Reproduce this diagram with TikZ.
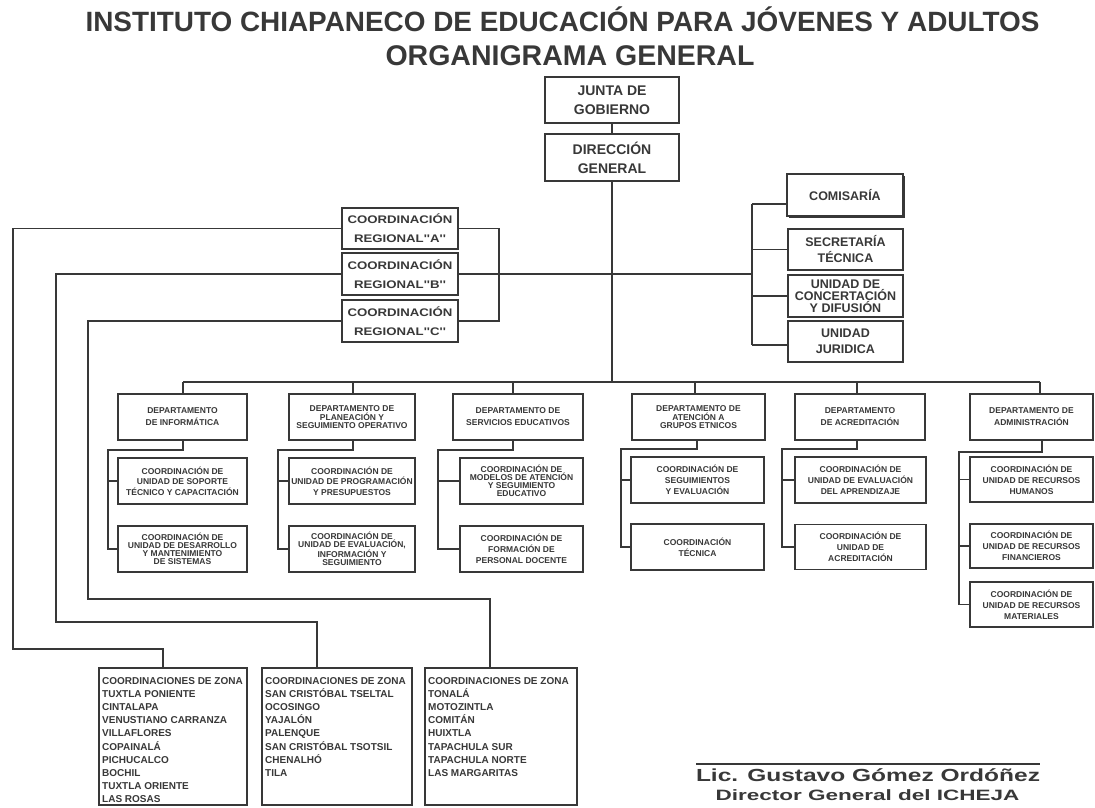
\documentclass[tikz,border=0pt]{standalone}
\usepackage{fontspec}
\setmainfont{Liberation Sans}
\newfontfamily\widesf[FakeStretch=1.2]{Liberation Sans}
\usetikzlibrary{shadows}
\definecolor{ink}{gray}{0.22}
\newcommand\fTop{\bfseries\fontsize{14}{19}\selectfont}
\newcommand\fStaff[1]{\bfseries\fontsize{12.5}{#1}\selectfont}
\newcommand\fReg{\widesf\bfseries\fontsize{11}{19}\selectfont}
\newcommand\fD[1]{\bfseries\fontsize{8.5}{#1}\selectfont}
\newcommand\fZone{\bfseries\fontsize{10}{13}\selectfont}
\tikzset{
  box/.style={draw=ink, line width=1.3pt, fill=white, inner sep=0pt, align=center, text=ink},
  conn/.style={draw=ink, line width=1.3pt},
  zl/.style={inner sep=0pt, text=ink, font=\fZone},
}
\begin{document}
\begin{tikzpicture}[x=1pt,y=-1pt]
\useasboundingbox (0,0) rectangle (1095,808);
\fill[white] (0,0) rectangle (1095,808);

% titles
\node[anchor=base, inner sep=0pt, text=ink, font=\bfseries\fontsize{27.9}{30}\selectfont] (t1) at (562.5,32) {INSTITUTO CHIAPANECO DE EDUCACIÓN PARA JÓVENES Y ADULTOS};
\node[anchor=base, inner sep=0pt, text=ink, font=\bfseries\fontsize{28.5}{30}\selectfont] (t2) at (570,66) {ORGANIGRAMA GENERAL};

% top
\node[box, minimum width=134pt, minimum height=46pt, font=\fTop] (junta) at (612,100) {JUNTA DE\\GOBIERNO};
\node[box, minimum width=134pt, minimum height=47pt, font=\fTop] (dir) at (612,157.5) {DIRECCIÓN\\GENERAL};

% staff
\node[box, minimum width=116pt, minimum height=42pt, font={\fStaff{16}}, drop shadow={shadow xshift=1.5pt, shadow yshift=-1.5pt, fill=ink, opacity=1}] (com) at (845,195) {COMISARÍA};
\node[box, minimum width=115pt, minimum height=41pt, font={\fStaff{16}}] (sec) at (845.5,249.5) {SECRETARÍA\\TÉCNICA};
\node[box, minimum width=115pt, minimum height=42pt, font={\fStaff{12}}] (unid) at (845.5,296) {UNIDAD DE\\CONCERTACIÓN\\Y DIFUSIÓN};
\node[box, minimum width=115pt, minimum height=41pt, font={\fStaff{16}}] (jur) at (845.5,341.5) {UNIDAD\\JURIDICA};

% regional
\node[box, minimum width=116pt, minimum height=41pt, font=\fReg] (rA) at (400,228.5) {COORDINACIÓN\\REGIONAL''A''};
\node[box, minimum width=116pt, minimum height=42pt, font=\fReg] (rB) at (400,274) {COORDINACIÓN\\REGIONAL''B''};
\node[box, minimum width=116pt, minimum height=42pt, font=\fReg] (rC) at (400,321) {COORDINACIÓN\\REGIONAL''C''};

% departments
\node[box, minimum width=129pt, minimum height=46pt, font={\fD{12}}] (d1) at (182.5,417) {DEPARTAMENTO\\DE INFORMÁTICA};
\node[box, minimum width=126pt, minimum height=46pt, font={\fD{7.6}}] (d2) at (352,417) {DEPARTAMENTO DE\\PLANEACIÓN Y\\SEGUIMIENTO OPERATIVO};
\node[box, minimum width=130pt, minimum height=46pt, font={\fD{12}}] (d3) at (518,417) {DEPARTAMENTO DE\\SERVICIOS EDUCATIVOS};
\node[box, minimum width=133pt, minimum height=46pt, font={\fD{7.6}}] (d4) at (698.5,417) {DEPARTAMENTO DE\\ATENCIÓN A\\GRUPOS ETNICOS};
\node[box, minimum width=130pt, minimum height=46pt, font={\fD{12}}] (d5) at (860,417) {DEPARTAMENTO\\DE ACREDITACIÓN};
\node[box, minimum width=123pt, minimum height=46pt, font={\fD{12}}] (d6) at (1031.5,417) {DEPARTAMENTO DE\\ADMINISTRACIÓN};

% sub units
\node[box, minimum width=129pt, minimum height=46pt, font={\fD{10.5}}] (s11) at (182.5,481) {COORDINACIÓN DE\\UNIDAD DE SOPORTE\\TÉCNICO Y CAPACITACIÓN};
\node[box, minimum width=129pt, minimum height=46pt, font={\fD{8}}] (s12) at (182.5,549) {COORDINACIÓN DE\\UNIDAD DE DESARROLLO\\Y MANTENIMIENTO\\DE SISTEMAS};
\node[box, minimum width=126pt, minimum height=46pt, font={\fD{10.5}}] (s21) at (352,481) {COORDINACIÓN DE\\UNIDAD DE PROGRAMACIÓN\\Y PRESUPUESTOS};
\node[box, minimum width=126pt, minimum height=46pt, font={\fD{8}}] (s22) at (352,549) {COORDINACIÓN DE\\UNIDAD DE EVALUACIÓN,\\INFORMACIÓN Y\\SEGUIMIENTO};
\node[box, minimum width=123pt, minimum height=46pt, font={\fD{8}}] (s31) at (521.5,481) {COORDINACIÓN DE\\MODELOS DE ATENCIÓN\\Y SEGUIMIENTO\\EDUCATIVO};
\node[box, minimum width=123pt, minimum height=46pt, font={\fD{11}}] (s32) at (521.5,549) {COORDINACIÓN DE\\FORMACIÓN DE\\PERSONAL DOCENTE};
\node[box, minimum width=133pt, minimum height=46pt, font={\fD{11}}] (s41) at (697.5,480) {COORDINACIÓN DE\\SEGUIMIENTOS\\Y EVALUACIÓN};
\node[box, minimum width=133pt, minimum height=46pt, font={\fD{11}}] (s42) at (697.5,547) {COORDINACIÓN\\TÉCNICA};
\node[box, minimum width=131pt, minimum height=46pt, font={\fD{11}}] (s51) at (860.5,480) {COORDINACIÓN DE\\UNIDAD DE EVALUACIÓN\\DEL APRENDIZAJE};
\node[box, minimum width=131pt, minimum height=45pt, font={\fD{11}}] (s52) at (860.5,547) {COORDINACIÓN DE\\UNIDAD DE\\ACREDITACIÓN};
\node[box, minimum width=123pt, minimum height=45pt, font={\fD{11}}] (s61) at (1031.5,479.5) {COORDINACIÓN DE\\UNIDAD DE RECURSOS\\HUMANOS};
\node[box, minimum width=123pt, minimum height=44pt, font={\fD{11}}] (s62) at (1031.5,546) {COORDINACIÓN DE\\UNIDAD DE RECURSOS\\FINANCIEROS};
\node[box, minimum width=123pt, minimum height=45pt, font={\fD{11}}] (s63) at (1031.5,604.5) {COORDINACIÓN DE\\UNIDAD DE RECURSOS\\MATERIALES};

% zone boxes
\node[box, minimum width=148pt, minimum height=137pt] (z1) at (173,736.5) {};
\node[box, minimum width=150pt, minimum height=137pt] (z2) at (337,736.5) {};
\node[box, minimum width=152pt, minimum height=137pt] (z3) at (501,736.5) {};
\foreach \t [count=\i from 0] in {COORDINACIONES DE ZONA, TUXTLA PONIENTE, CINTALAPA, VENUSTIANO CARRANZA, VILLAFLORES, COPAINALÁ, PICHUCALCO, BOCHIL, TUXTLA ORIENTE, LAS ROSAS}
  \node[zl, anchor=base west] (za\i) at (102,{684.5+13.1*\i}) {\t};
\foreach \t [count=\i from 0] in {COORDINACIONES DE ZONA, SAN CRISTÓBAL TSELTAL, OCOSINGO, YAJALÓN, PALENQUE, SAN CRISTÓBAL TSOTSIL, CHENALHÓ, TILA}
  \node[zl, anchor=base west] (zb\i) at (265,{684.5+13.1*\i}) {\t};
\foreach \t [count=\i from 0] in {COORDINACIONES DE ZONA, TONALÁ, MOTOZINTLA, COMITÁN, HUIXTLA, TAPACHULA SUR, TAPACHULA NORTE, LAS MARGARITAS}
  \node[zl, anchor=base west] (zc\i) at (428,{684.5+13.1*\i}) {\t};

% signature
\coordinate (sgL) at (696,764);
\coordinate (sgR) at (1040,764);
\draw[draw=ink, line width=1.2pt] (sgL) -- (sgR);
\node[anchor=base, inner sep=0pt, text=ink] (sig1) at (868,781) {\scalebox{1.4}[1]{\bfseries\fontsize{17.5}{20}\selectfont Lic. Gustavo Gómez Ordóñez}};
\node[anchor=base, inner sep=0pt, text=ink] (sig2) at (867.5,800) {\scalebox{1.5}[1]{\bfseries\fontsize{15}{18}\selectfont Director General del ICHEJA}};

% ---- connectors ----
\draw[conn] (junta) -- (dir);
\coordinate (busC) at (612,382);
\draw[conn] (dir.south) -- (busC);
% middle bus
\coordinate (sb) at (752,274);
\draw[conn] (rB.east) -- (sb);
% staff bracket
\coordinate (sbT) at (752,204);
\coordinate (sbB) at (752,345);
\draw[conn] (sbT) -- (sbB);
\draw[conn] (sbT) -- (sbT -| com.west);
\draw[conn] (sec.west -| sbT) -- (sec.west);
\draw[conn] (unid.west -| sbT) -- (unid.west);
\draw[conn] (sbB) -- (sbB -| jur.west);
% regional right bracket
\coordinate (rb) at (499,274);
\draw[conn] (rA.east) -- (rA.east -| rb) -- (rC.east -| rb) -- (rC.east);
% regional to zones
\coordinate (lA) at (13,649);  \coordinate (mA) at (163,649);
\coordinate (lB) at (56,622);  \coordinate (mB) at (317,622);
\coordinate (lC) at (88,599);  \coordinate (mC) at (490,599);
\draw[conn] (rA.west) -- (rA.west -| lA) -- (lA) -- (mA) -- (mA |- z1.north);
\draw[conn] (rB.west) -- (rB.west -| lB) -- (lB) -- (mB) -- (mB |- z2.north);
\draw[conn] (rC.west) -- (rC.west -| lC) -- (lC) -- (mC) -- (mC |- z3.north);
% department bus
\coordinate (tp1) at (183,382);
\coordinate (tp2) at (353,382);
\coordinate (tp3) at (513,382);
\coordinate (tp4) at (695,382);
\coordinate (tp5) at (857,382);
\coordinate (tp6) at (1040,382);
\draw[conn] (tp1) -- (tp6);
\foreach \k in {1,...,6} \draw[conn] (tp\k) -- (tp\k |- d\k.north);
% sub brackets
\coordinate (b1) at (183,450);  \coordinate (k1) at (108,450);
\coordinate (b2) at (353,450);  \coordinate (k2) at (278,450);
\coordinate (b3) at (513,450);  \coordinate (k3) at (438,450);
\coordinate (b4) at (697,449);  \coordinate (k4) at (621,449);
\coordinate (b5) at (857,449);  \coordinate (k5) at (782,449);
\coordinate (b6) at (1042,452); \coordinate (k6) at (959,452);
\foreach \k in {1,...,5} {
  \draw[conn] (b\k |- d\k.south) -- (b\k) -- (k\k) -- (k\k |- s\k2.west) -- (s\k2.west);
  \draw[conn] (k\k |- s\k1.west) -- (s\k1.west);
}
\draw[conn] (b6 |- d6.south) -- (b6) -- (k6) -- (k6 |- s63.west) -- (s63.west);
\draw[conn] (k6 |- s61.west) -- (s61.west);
\draw[conn] (k6 |- s62.west) -- (s62.west);
\end{tikzpicture}
\end{document}
